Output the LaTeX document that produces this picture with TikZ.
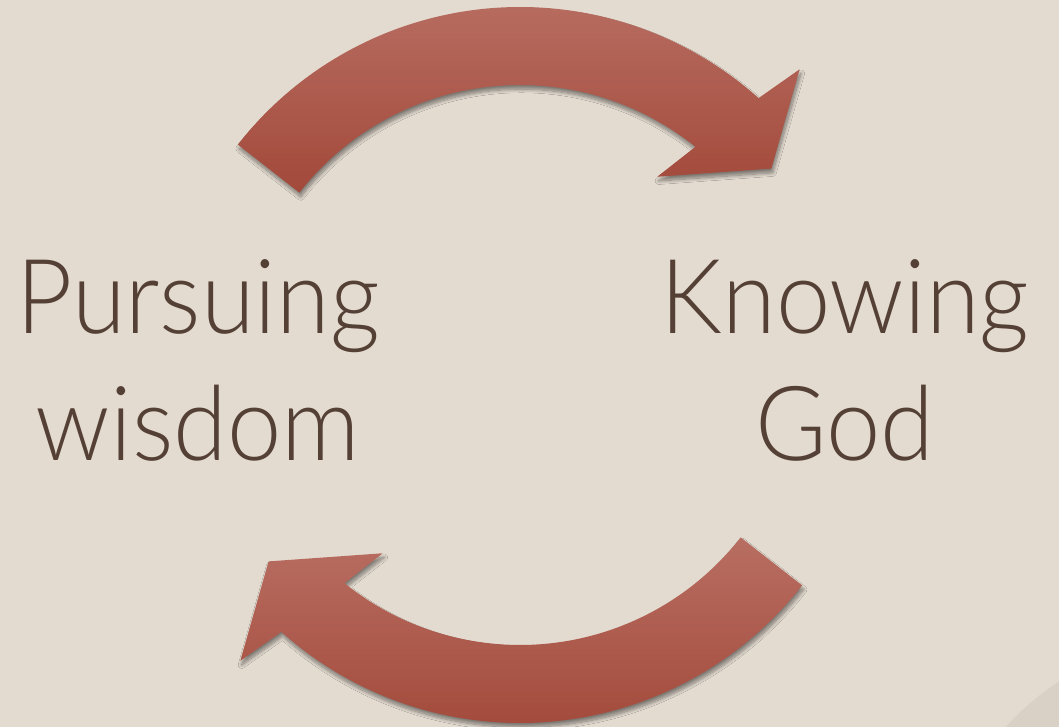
\documentclass[tikz,border=0pt]{standalone}
\usepackage{fontspec}
\setmainfont{Lato}[UprightFont=* Light]
\usetikzlibrary{shadows.blur}

\definecolor{paper}{RGB}{227,219,208}
\definecolor{curl}{RGB}{217,208,198}
\definecolor{arrowtop}{RGB}{184,110,98}
\definecolor{arrowbottom}{RGB}{162,73,58}
\definecolor{ink}{RGB}{85,64,54}

\tikzset{
  cyclearrow/.style={top color=arrowtop, bottom color=arrowbottom, draw=none,
    blur shadow={shadow xshift=0.8pt, shadow yshift=-2.4pt, shadow opacity=45, shadow blur steps=10}},
  labeltext/.style={text=ink, font=\fontsize{59}{72}\selectfont, align=center, anchor=base,
    xscale=0.94, transform shape}
}

\begin{document}
\begin{tikzpicture}[x=0.02cm, y=0.02cm]
            % Background
            \useasboundingbox (-520,-362) rectangle (539,365);
            \fill[paper] (-520,-362) rectangle (539,365);
            \fill[curl] (680,-535) circle (260);

            % Upper arrow
            \path[cyclearrow] (142:358) arc[start angle=142, end angle=48.2, radius=358]
                -- (46.6:407) -- (38:319) -- (53.9:233) -- (51.2:280)
                arc[start angle=51.2, end angle=142, radius=280] -- cycle;

            % Lower arrow
            \path[cyclearrow] (322:358) arc[start angle=322, end angle=228.2, radius=358]
                -- (226.6:407) -- (218:319) -- (233.9:233) -- (231.2:280)
                arc[start angle=231.2, end angle=322, radius=280] -- cycle;

            % Labels
            \node[labeltext] (pursuing) at (-322,-95) {Pursuing\\wisdom};
            \node[labeltext] (knowing) at (325,-95) {Knowing\\God};
\end{tikzpicture}
\end{document}
